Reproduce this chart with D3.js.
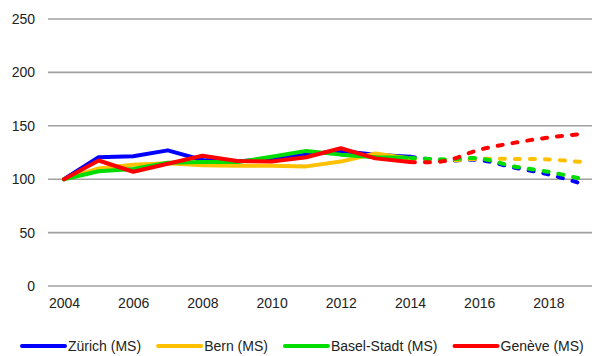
<!DOCTYPE html>
<html>
<head>
<meta charset="utf-8">
<script src="https://cdn.jsdelivr.net/npm/d3@7"></script>
<style>
  html, body { margin: 0; padding: 0; background: #fff; }
  svg { display: block; font-family: "Liberation Sans", Arial, sans-serif; }
</style>
</head>
<body>
<svg id="chart" width="595" height="356"></svg>
<script>
// Observed years and projection years
const yearsActual = [2004, 2005, 2006, 2007, 2008, 2009, 2010, 2011, 2012, 2013, 2014];
const yearsProjected = [2014, 2015, 2016, 2017, 2018, 2019];

// Index values (2004 = 100), observed
const zurichActual = [100, 120.5, 121.5, 127, 118, 116.5, 119, 123, 126.5, 123, 121];
const bernActual   = [100, 110, 113.5, 115, 113, 112.5, 112.5, 112, 116.5, 124, 119.5];
const baselActual  = [100, 107.5, 109.5, 115.5, 116, 116, 121, 126.5, 123, 120.5, 120];
const geneveActual = [100, 117.5, 107, 114.5, 122, 117, 116.5, 120.5, 129, 119.5, 116];

// Index values, projected
const zurichProjected = [121, 117.5, 118, 111, 104.5, 95.5];
const bernProjected   = [119.5, 117.5, 119, 119, 118.5, 116];
const baselProjected  = [120, 118.5, 119.5, 112, 107, 100];
const geneveProjected = [116, 117, 127.5, 134, 139, 142.5];

const seriesNames  = ["Zürich (MS)", "Bern (MS)", "Basel-Stadt (MS)", "Genève (MS)"];
const seriesColors = ["#0000ff", "#ffc000", "#00dd00", "#ff0000"];

const yTicks = [0, 50, 100, 150, 200, 250];
const xTicks = [2004, 2006, 2008, 2010, 2012, 2014, 2016, 2018];

const actualData = [zurichActual, bernActual, baselActual, geneveActual];
const projectedData = [zurichProjected, bernProjected, baselProjected, geneveProjected];

const svg = d3.select("#chart");

const x = d3.scaleLinear().domain([2004, 2019]).range([64, 583]);
const y = d3.scaleLinear().domain([0, 250]).range([286, 19]);

// Horizontal gridlines
svg.append("g")
  .selectAll("line")
  .data(yTicks)
  .join("line")
  .attr("x1", 48).attr("x2", 592)
  .attr("y1", d => y(d)).attr("y2", d => y(d))
  .attr("stroke", "#a0a0a0")
  .attr("stroke-width", 1.6);

// Y axis labels
const yAxis = svg.append("g")
  .attr("transform", "translate(48,0)")
  .call(d3.axisLeft(y).tickValues(yTicks).tickSize(0).tickPadding(13));
yAxis.select(".domain").remove();
yAxis.selectAll("text").attr("font-size", 14).attr("fill", "#222")
  .attr("font-family", "Liberation Sans, Arial, sans-serif");

// X axis labels
const xAxis = svg.append("g")
  .attr("transform", `translate(0,${y(0)})`)
  .call(d3.axisBottom(x).tickValues(xTicks).tickFormat(d3.format("d")).tickSize(0).tickPadding(12));
xAxis.select(".domain").remove();
xAxis.selectAll("text").attr("font-size", 14).attr("fill", "#222")
  .attr("font-family", "Liberation Sans, Arial, sans-serif");

// Lines
const lineActual = d3.line()
  .x((d, i) => x(yearsActual[i]))
  .y(d => y(d));
const lineProjected = d3.line()
  .x((d, i) => x(yearsProjected[i]))
  .y(d => y(d))
  .curve(d3.curveCatmullRom.alpha(0.5));

const lines = svg.append("g").attr("fill", "none");

actualData.forEach((vals, k) => {
  lines.append("path")
    .attr("d", lineActual(vals))
    .attr("stroke", seriesColors[k])
    .attr("stroke-width", 4)
    .attr("stroke-linejoin", "round")
    .attr("stroke-linecap", "round");
});

projectedData.forEach((vals, k) => {
  lines.append("path")
    .attr("d", lineProjected(vals))
    .attr("stroke", seriesColors[k])
    .attr("stroke-width", 4)
    .attr("stroke-dasharray", "5,10")
    .attr("stroke-linejoin", "round")
    .attr("stroke-linecap", "round");
});

// Legend
const legend = svg.append("g");
let lx = 22;
const ly = 346;
seriesNames.forEach((name, k) => {
  legend.append("line")
    .attr("x1", lx).attr("x2", lx + 43)
    .attr("y1", ly).attr("y2", ly)
    .attr("stroke", seriesColors[k])
    .attr("stroke-width", 4)
    .attr("stroke-linecap", "round");
  const t = legend.append("text")
    .attr("x", lx + 46)
    .attr("y", ly + 5)
    .attr("font-size", 14)
    .attr("fill", "#222")
    .text(name);
  lx = lx + 46 + t.node().getComputedTextLength() + 17;
});
</script>
</body>
</html>
